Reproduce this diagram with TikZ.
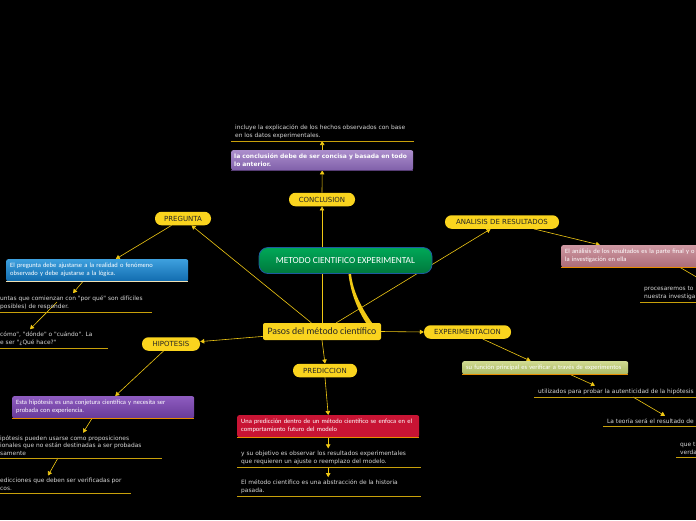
\documentclass[tikz,border=0pt]{standalone}
\usepackage{fontspec}
\newfontfamily\carlito{Carlito}
\newfontfamily\dejavu{DejaVu Sans}
\usepackage{xcolor}
\usetikzlibrary{arrows.meta,calc}
\definecolor{pillyellow}{RGB}{250,212,30}
\definecolor{linkyellow}{RGB}{240,200,20}
\definecolor{underl}{RGB}{200,160,10}
\definecolor{leafgray}{RGB}{215,215,215}
\definecolor{green1}{RGB}{0,168,88}
\definecolor{green2}{RGB}{0,120,60}
\definecolor{mainblue}{RGB}{30,90,160}
\definecolor{purpl1}{RGB}{172,142,204}
\definecolor{purpl2}{RGB}{128,96,170}
\definecolor{concline}{RGB}{85,60,115}
\definecolor{blue1}{RGB}{62,160,222}
\definecolor{blue2}{RGB}{18,108,175}
\definecolor{cream}{RGB}{240,225,180}
\definecolor{violet1}{RGB}{142,92,192}
\definecolor{violet2}{RGB}{104,58,152}
\definecolor{crimson}{RGB}{200,20,52}
\definecolor{rose1}{RGB}{206,152,162}
\definecolor{rose2}{RGB}{172,108,120}
\definecolor{olive1}{RGB}{208,218,145}
\definecolor{olive2}{RGB}{170,186,100}
\definecolor{orangeln}{RGB}{230,140,0}
\pgfdeclarelayer{bg}
\pgfdeclarelayer{links}
\pgfsetlayers{bg,links,main}

\begin{document}
\begin{tikzpicture}[x=1pt, y=-1pt,
    pill/.style={fill=pillyellow, rounded corners=6.5pt, text=black!85, font=\dejavu\fontsize{7}{8}\selectfont, minimum height=13.5pt, inner sep=0pt},
    link/.style={draw=linkyellow, line width=0.6pt, -{Triangle[width=4.5pt,length=4pt]}},
    topic/.style={rounded corners=2pt, anchor=north west, align=left, text=white, font=\carlito\fontsize{6.5}{8}\selectfont, inner xsep=4pt, inner ysep=0pt, minimum height=22pt, append after command={(\tikzlastnode.south west) edge[draw=#1, line width=1.2pt] (\tikzlastnode.south east)}},
    leaf/.style={anchor=south west, align=left, text=leafgray, font=\dejavu\fontsize{5.9}{7.5}\selectfont, inner xsep=4pt, inner ysep=2.5pt, append after command={(\tikzlastnode.south west) edge[draw=underl, line width=0.9pt] ++(#1,0)}}]
\useasboundingbox (0,0) rectangle (696,520);
\begin{pgfonlayer}{bg}
\fill[black] (0,0) rectangle (696,520);
\end{pgfonlayer}
\clip (0,0) rectangle (696,520);
% central topic
\node[draw=mainblue, line width=0.8pt, top color=green1, bottom color=green2, rounded corners=9pt, minimum width=173pt, minimum height=26pt, text=white, font=\carlito\fontsize{9.3}{11}\selectfont] (metodo) at (345.5,260.5) {METODO CIENTIFICO EXPERIMENTAL};
\node[fill=pillyellow, rounded corners=2pt, minimum width=118pt, minimum height=17pt, text=black!85, font=\carlito\fontsize{9.8}{11}\selectfont] (pasos) at (322,331.5) {Pasos del método científico};
% main steps
\foreach \n/\x/\y/\w/\t in {preg/183/218.5/56/PREGUNTA, concl/322/199.5/66/CONCLUSION, anal/502/222/114/ANALISIS DE RESULTADOS, exper/467.5/332/87/EXPERIMENTACION, hipo/171/344/58/HIPOTESIS, pred/325/370.5/64/PREDICCION} {
    \node[pill, minimum width=\w pt] (\n) at (\x,\y) {\t};
}
% boxes under each step
\node[topic=concline, top color=purpl1, bottom color=purpl2, text width=176pt, inner xsep=3pt, minimum height=20pt, font=\dejavu\bfseries\fontsize{6}{7.3}\selectfont] (concbox) at (231,150) {la conclusión debe de ser concisa y basada en todo\\lo anterior.};
\node[topic=cream, top color=blue1, bottom color=blue2, text width=174pt] (pregbox) at (6,259) {El pregunta debe ajustarse a la realidad o fenómeno\\observado y debe ajustarse a la lógica.};
\node[topic=orangeln, top color=violet1, bottom color=violet2, text width=174pt] (hipbox) at (12,396) {Esta hipótesis es una conjetura científica y necesita ser\\probada con experiencia.};
\node[topic=orangeln, fill=crimson, text width=174pt] (predbox) at (237,415) {Una predicción dentro de un método científico se enfoca en el\\comportamiento futuro del modelo};
\node[topic=orangeln, top color=rose1, bottom color=rose2, text width=170pt] (anabox) at (561,245) {El análisis de los resultados es la parte final y o\\la investigación en ella};
\node[topic=orangeln, top color=olive1, bottom color=olive2, text width=158pt, minimum height=13pt] (expbox) at (462,361) {su función principal es verificar a través de experimentos};
% notes (underlined)
\node[leaf=183] (concnote) at (231,141) {incluye la explicación de los hechos observados con base\\en los datos experimentales.};
\node[leaf=156] (pregA) at (-4,312) {untas que comienzan con "por qué" son difíciles\\posibles) de responder.};
\node[leaf=112] (pregB) at (-4,348) {cómo", "dónde" o "cuándo". La\\e ser "¿Qué hace?"};
\node[leaf=166] (hipA) at (-4,458) {ipótesis pueden usarse como proposiciones\\ionales que no están destinadas a ser probadas\\samente};
\node[leaf=135] (hipB) at (-4,493) {edicciones que deben ser verificadas por\\cos.};
\node[leaf=184] (predA) at (237,467) {y su objetivo es observar los resultados experimentales\\que requieren un ajuste o reemplazo del modelo.};
\node[leaf=184] (predB) at (237,496) {El método científico es una abstracción de la historia\\pasada.};
\node[leaf=70] (anaA) at (640,302) {procesaremos to\\nuestra investiga};
\node[leaf=180] (expA) at (534,397) {utilizados para probar la autenticidad de la hipótesis};
\node[leaf=110] (expB) at (603,426) {La teoría será el resultado de};
\node[leaf=40] (expC) at (676,457) {que t\\verda};
% connectors
\begin{pgfonlayer}{links}
\begin{scope}
\clip (0,0) rectangle (696,520);
\fill[linkyellow] ($(metodo.south)+(3,0)$) .. controls +(2,18) and +(-9,-14) .. ($(pasos.north)+(44,0)$) -- ++(6,0) .. controls +(-10,-14) and +(2,18) .. ($(metodo.south)+(5.5,0)$) -- cycle;
\draw[link] (pasos) -- (preg);
\draw[link] (pasos.north) -- (concl.south);
\draw[link] (pasos) -- (anal);
\draw[link] (pasos.east) -- (exper.west);
\draw[link] (pasos) -- (hipo);
\draw[link] (pasos.south) -- (pred.north);
\draw[link] (preg) -- (pregbox);
\draw[link] (concl.north) -- (concbox.south);
\draw[link] (concbox.north) -- (concbox.north |- concnote.south);
\draw[link] ($(anal.south)+(32,0)$) -- ($(anabox.north west)+(39,0)$);
\draw[link] (exper) -- (expbox);
\draw[link] (hipo) -- (hipbox);
\draw[link] (pred.south) -- (predbox.north);
\draw[link] ($(pregbox.south west)+(77,0)$) -- ($(pregA.north west)+(77,0)$);
\draw[link] ($(pregA.south west)+(61,-10)$) -- ($(pregB.north west)+(34,0)$);
\draw[link] ($(hipbox.south west)+(80,0)$) -- ($(hipA.north west)+(87,0)$);
\draw[link] ($(hipA.south west)+(62,0)$) -- ($(hipB.north west)+(52,0)$);
\draw[link] (predbox.south) -- (predbox.south |- predA.north);
\draw[link] (predbox.south |- predA.south) -- (predbox.south |- predB.north);
\draw[link] ($(anabox.south west)+(119,0)$) -- ($(anaA.north west)+(68,0)$);
\draw[link] ($(expbox.south west)+(108,0)$) -- ($(expA.north west)+(61,0)$);
\draw[link] ($(expA.south west)+(99,0)$) -- ($(expB.north west)+(62,0)$);
\end{scope}
\end{pgfonlayer}
\end{tikzpicture}
\end{document}
